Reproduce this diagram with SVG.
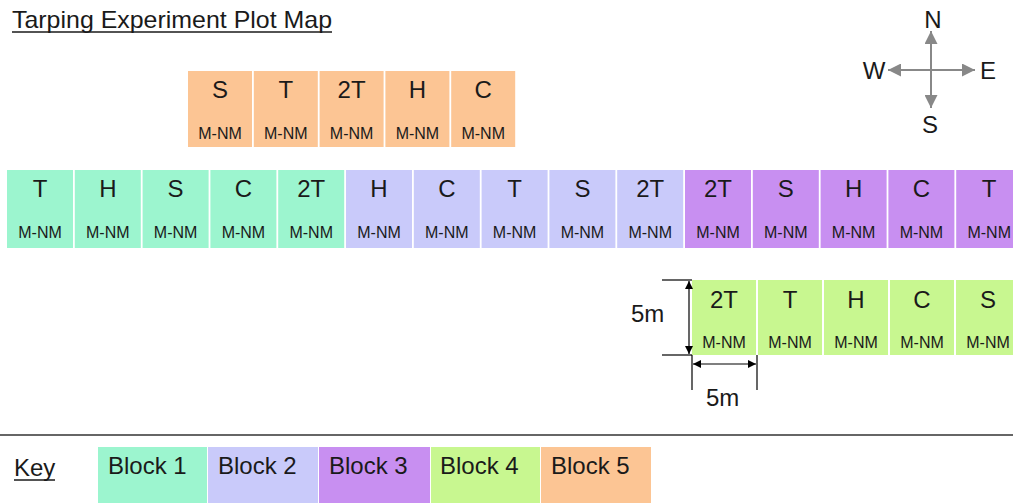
<svg xmlns="http://www.w3.org/2000/svg" width="1013" height="503" viewBox="0 0 1013 503">
  <defs>
    <style>
      text { font-family: "Liberation Sans", Arial, sans-serif; fill: #1a1a1a; }
      .big { font-size: 24px; text-anchor: middle; }
      .sub { font-size: 16px; text-anchor: middle; }
      .lbl { font-size: 24px; }
      .b1 { fill: #9cf5cf; }
      .b2 { fill: #c9cafa; }
      .b3 { fill: #c88ff1; }
      .b4 { fill: #c8f790; }
      .b5 { fill: #fcc594; }
      .dim { stroke: #000; stroke-width: 1.2; fill: none; }
      .cmp { stroke: #888; stroke-width: 2; fill: none; }
    </style>
    <marker id="ah" viewBox="0 0 10 10" refX="10" refY="5" markerWidth="12" markerHeight="8" markerUnits="userSpaceOnUse" orient="auto-start-reverse">
      <path d="M0,0 L10,5 L0,10 z" fill="#000"/>
    </marker>
    <marker id="ch" viewBox="0 0 10 10" refX="10" refY="5" markerWidth="16" markerHeight="13" markerUnits="userSpaceOnUse" orient="auto-start-reverse">
      <path d="M0,0 L10,5 L0,10 z" fill="#888"/>
    </marker>
  </defs>

  <rect width="1013" height="503" fill="#fff"/>

  <!-- title -->
  <g id="title">
    <text class="lbl" x="12" y="28" textLength="320" lengthAdjust="spacingAndGlyphs">Tarping Experiment Plot Map</text>
    <line x1="12" y1="32" x2="332" y2="32" stroke="#1a1a1a" stroke-width="1.5"/>
  </g>

  <!-- compass -->
  <g id="compass">
    <line class="cmp" x1="931" y1="108" x2="931" y2="31" marker-end="url(#ch)" marker-start="url(#ch)"/>
    <line class="cmp" x1="888" y1="70" x2="975" y2="70" marker-end="url(#ch)" marker-start="url(#ch)"/>
    <text class="big" x="933" y="28">N</text>
    <text class="big" x="874" y="79">W</text>
    <text class="big" x="988" y="79">E</text>
    <text class="big" x="930" y="133">S</text>
  </g>

  <!-- block 5 row -->
  <g id="block5">
    <g id="b5-S"><rect class="b5" x="188" y="71" width="64" height="76"/><text class="big" x="220" y="98">S</text><text class="sub" x="220" y="139">M-NM</text></g>
    <g id="b5-T"><rect class="b5" x="253.8" y="71" width="64" height="76"/><text class="big" x="285.8" y="98">T</text><text class="sub" x="285.8" y="139">M-NM</text></g>
    <g id="b5-2T"><rect class="b5" x="319.6" y="71" width="64" height="76"/><text class="big" x="351.6" y="98">2T</text><text class="sub" x="351.6" y="139">M-NM</text></g>
    <g id="b5-H"><rect class="b5" x="385.4" y="71" width="64" height="76"/><text class="big" x="417.4" y="98">H</text><text class="sub" x="417.4" y="139">M-NM</text></g>
    <g id="b5-C"><rect class="b5" x="451.2" y="71" width="64" height="76"/><text class="big" x="483.2" y="98">C</text><text class="sub" x="483.2" y="139">M-NM</text></g>
  </g>

  <!-- blocks 1-3 row -->
  <g id="block1">
    <g id="b1-T"><rect class="b1" x="7" y="170" width="66" height="78"/><text class="big" x="40" y="197">T</text><text class="sub" x="40" y="238">M-NM</text></g>
    <g id="b1-H"><rect class="b1" x="74.8" y="170" width="66" height="78"/><text class="big" x="107.8" y="197">H</text><text class="sub" x="107.8" y="238">M-NM</text></g>
    <g id="b1-S"><rect class="b1" x="142.6" y="170" width="66" height="78"/><text class="big" x="175.6" y="197">S</text><text class="sub" x="175.6" y="238">M-NM</text></g>
    <g id="b1-C"><rect class="b1" x="210.4" y="170" width="66" height="78"/><text class="big" x="243.4" y="197">C</text><text class="sub" x="243.4" y="238">M-NM</text></g>
    <g id="b1-2T"><rect class="b1" x="278.2" y="170" width="66" height="78"/><text class="big" x="311.2" y="197">2T</text><text class="sub" x="311.2" y="238">M-NM</text></g>
  </g>
  <g id="block2">
    <g id="b2-H"><rect class="b2" x="346" y="170" width="66" height="78"/><text class="big" x="379" y="197">H</text><text class="sub" x="379" y="238">M-NM</text></g>
    <g id="b2-C"><rect class="b2" x="413.8" y="170" width="66" height="78"/><text class="big" x="446.8" y="197">C</text><text class="sub" x="446.8" y="238">M-NM</text></g>
    <g id="b2-T"><rect class="b2" x="481.6" y="170" width="66" height="78"/><text class="big" x="514.6" y="197">T</text><text class="sub" x="514.6" y="238">M-NM</text></g>
    <g id="b2-S"><rect class="b2" x="549.4" y="170" width="66" height="78"/><text class="big" x="582.4" y="197">S</text><text class="sub" x="582.4" y="238">M-NM</text></g>
    <g id="b2-2T"><rect class="b2" x="617.2" y="170" width="66" height="78"/><text class="big" x="650.2" y="197">2T</text><text class="sub" x="650.2" y="238">M-NM</text></g>
  </g>
  <g id="block3">
    <g id="b3-2T"><rect class="b3" x="685" y="170" width="66" height="78"/><text class="big" x="718" y="197">2T</text><text class="sub" x="718" y="238">M-NM</text></g>
    <g id="b3-S"><rect class="b3" x="752.8" y="170" width="66" height="78"/><text class="big" x="785.8" y="197">S</text><text class="sub" x="785.8" y="238">M-NM</text></g>
    <g id="b3-H"><rect class="b3" x="820.6" y="170" width="66" height="78"/><text class="big" x="853.6" y="197">H</text><text class="sub" x="853.6" y="238">M-NM</text></g>
    <g id="b3-C"><rect class="b3" x="888.4" y="170" width="66" height="78"/><text class="big" x="921.4" y="197">C</text><text class="sub" x="921.4" y="238">M-NM</text></g>
    <g id="b3-T"><rect class="b3" x="956.2" y="170" width="66" height="78"/><text class="big" x="989.2" y="197">T</text><text class="sub" x="989.2" y="238">M-NM</text></g>
  </g>

  <!-- block 4 row -->
  <g id="block4">
    <g id="b4-2T"><rect class="b4" x="692" y="280" width="64" height="75"/><text class="big" x="724" y="308">2T</text><text class="sub" x="724" y="348">M-NM</text></g>
    <g id="b4-T"><rect class="b4" x="758" y="280" width="64" height="75"/><text class="big" x="790" y="308">T</text><text class="sub" x="790" y="348">M-NM</text></g>
    <g id="b4-H"><rect class="b4" x="824" y="280" width="64" height="75"/><text class="big" x="856" y="308">H</text><text class="sub" x="856" y="348">M-NM</text></g>
    <g id="b4-C"><rect class="b4" x="890" y="280" width="64" height="75"/><text class="big" x="922" y="308">C</text><text class="sub" x="922" y="348">M-NM</text></g>
    <g id="b4-S"><rect class="b4" x="956" y="280" width="64" height="75"/><text class="big" x="988" y="308">S</text><text class="sub" x="988" y="348">M-NM</text></g>
  </g>

  <!-- dimension lines -->
  <g id="connectors">
    <line class="dim" x1="662" y1="280" x2="692" y2="280"/>
    <line class="dim" x1="662" y1="355" x2="692" y2="355"/>
    <line class="dim" x1="689" y1="281" x2="689" y2="354" marker-start="url(#ah)" marker-end="url(#ah)"/>
    <line class="dim" x1="692" y1="355" x2="692" y2="390"/>
    <line class="dim" x1="757" y1="355" x2="757" y2="390"/>
    <line class="dim" x1="693" y1="364" x2="756" y2="364" marker-start="url(#ah)" marker-end="url(#ah)"/>
  </g>
  <g id="dim-labels">
    <text class="lbl" x="631" y="322">5m</text>
    <text class="lbl" x="706" y="406">5m</text>
  </g>

  <!-- divider -->
  <line x1="0" y1="435" x2="1013" y2="435" stroke="#666" stroke-width="2"/>

  <!-- key -->
  <g id="key">
    <text class="lbl" x="14" y="476">Key</text>
    <line x1="14" y1="480" x2="55" y2="480" stroke="#1a1a1a" stroke-width="1.5"/>
    <g id="key-1"><rect class="b1" x="98" y="447" width="109" height="56"/><text class="lbl" x="108" y="474">Block 1</text></g>
    <g id="key-2"><rect class="b2" x="208" y="447" width="110" height="56"/><text class="lbl" x="218" y="474">Block 2</text></g>
    <g id="key-3"><rect class="b3" x="319" y="447" width="111" height="56"/><text class="lbl" x="329" y="474">Block 3</text></g>
    <g id="key-4"><rect class="b4" x="431" y="447" width="109" height="56"/><text class="lbl" x="440" y="474">Block 4</text></g>
    <g id="key-5"><rect class="b5" x="541" y="447" width="110" height="56"/><text class="lbl" x="551" y="474">Block 5</text></g>
  </g>
</svg>
